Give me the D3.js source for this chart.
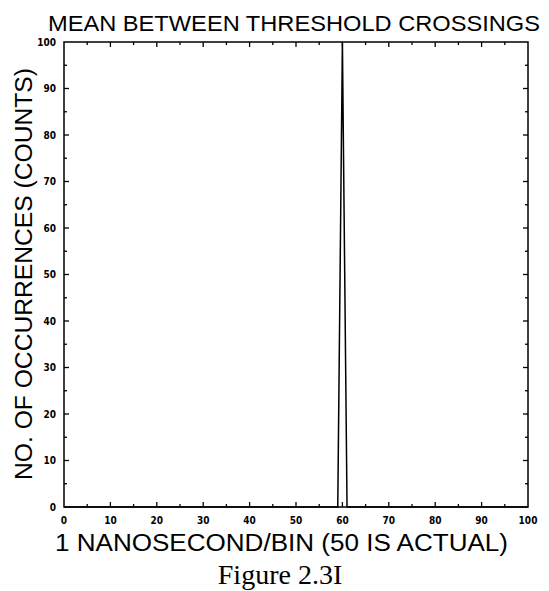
<!DOCTYPE html>
<html><head><meta charset="utf-8">
<script src="https://cdn.jsdelivr.net/npm/d3@7"></script>
<style>body{margin:0;background:#fff}</style>
</head><body>
<svg id="c" width="549" height="591"></svg>
<script>
const bins = d3.range(0, 101);
const counts = bins.map(b => b === 60 ? 100 : 0);
const xTicks = [0,10,20,30,40,50,60,70,80,90,100];
const yTicks = [0,10,20,30,40,50,60,70,80,90,100];

const svg = d3.select('#c');
const L=64, R=528, T=42, B=507;
const x = d3.scaleLinear().domain([0,100]).range([L,R]);
const y = d3.scaleLinear().domain([0,100]).range([B,T]);
const minorX = d3.range(5,100,10), minorY = d3.range(5,100,10);

const g = svg.append('g');
g.append('rect').attr('x',L).attr('y',T).attr('width',R-L).attr('height',B-T)
 .attr('fill','none').attr('stroke','#000').attr('stroke-width',1.5);

function ticksH(yy, dir){
  xTicks.slice(1,-1).forEach(t=>g.append('line').attr('x1',x(t)).attr('x2',x(t)).attr('y1',yy).attr('y2',yy+dir*5).attr('stroke','#000').attr('stroke-width',1.3));
  minorX.forEach(t=>g.append('line').attr('x1',x(t)).attr('x2',x(t)).attr('y1',yy).attr('y2',yy+dir*3).attr('stroke','#000').attr('stroke-width',1.3));
}
function ticksV(xx, dir){
  yTicks.slice(1,-1).forEach(t=>g.append('line').attr('y1',y(t)).attr('y2',y(t)).attr('x1',xx).attr('x2',xx+dir*5).attr('stroke','#000').attr('stroke-width',1.3));
  minorY.forEach(t=>g.append('line').attr('y1',y(t)).attr('y2',y(t)).attr('x1',xx).attr('x2',xx+dir*3).attr('stroke','#000').attr('stroke-width',1.3));
}
ticksH(B,-1); ticksH(T,1); ticksV(L,1); ticksV(R,-1);

const line = d3.line().x((d,i)=>x(bins[i])).y(d=>y(d));
g.append('path').datum(counts).attr('d',line).attr('fill','none').attr('stroke','#000').attr('stroke-width',1.5);

const tf = 'font-family:"DejaVu Sans Condensed","DejaVu Sans",sans-serif;font-size:10px;font-weight:bold';
xTicks.forEach(t=>g.append('text').attr('x',x(t)).attr('y',524).attr('text-anchor','middle').attr('style',tf).text(t));
yTicks.forEach(t=>g.append('text').attr('x',56).attr('y',y(t)+3.5).attr('text-anchor','end').attr('style',tf).text(t));

const lf = 'font-family:"Liberation Sans",Arial,sans-serif;';
svg.append('text').attr('x',48).attr('y',31).attr('textLength',492).attr('lengthAdjust','spacingAndGlyphs').attr('style',lf+'font-size:22px').text('MEAN BETWEEN THRESHOLD CROSSINGS');
svg.append('text').attr('x',55).attr('y',551).attr('textLength',453).attr('lengthAdjust','spacingAndGlyphs').attr('style',lf+'font-size:23px').text('1 NANOSECOND/BIN (50 IS ACTUAL)');
svg.append('text').attr('transform','translate(32,480) rotate(-90)').attr('textLength',412).attr('lengthAdjust','spacingAndGlyphs').attr('style',lf+'font-size:23px').text('NO. OF OCCURRENCES (COUNTS)');
svg.append('text').attr('x',280).attr('y',584).attr('text-anchor','middle')
 .attr('style','font-family:"Liberation Serif","Times New Roman",serif;font-size:28px').text('Figure 2.3I');
</script>
</body></html>
